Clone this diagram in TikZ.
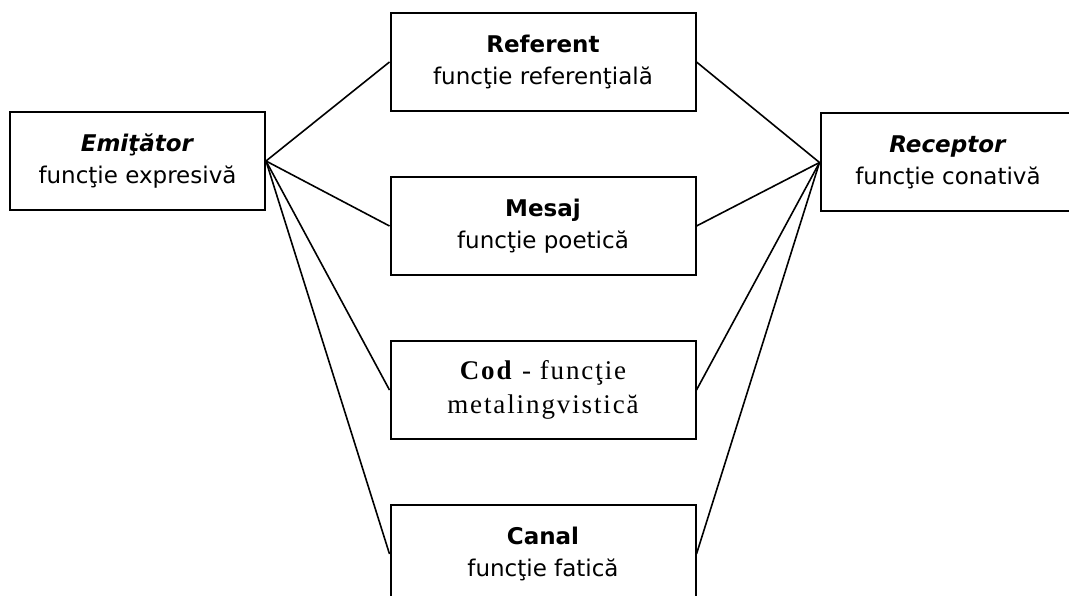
\documentclass[tikz,border=0pt]{standalone}
\usepackage{fontspec}
\setmainfont{DejaVu Sans}
\newfontfamily\codfont[LetterSpace=7]{Liberation Serif}
\usetikzlibrary{positioning}

\begin{document}
\begin{tikzpicture}[x=1pt, y=1pt,
        func/.style={draw, line width=2pt, align=center, minimum height=98pt, font=\fontsize{23}{32}\selectfont},
        side/.style={func, minimum width=255pt},
        mid/.style={func, minimum width=305pt},
        link/.style={line width=1.6pt}
      ]
      \clip (0,0) rectangle (1069,-596);

      \node (Em) [side] at (137.5,-161) {\textbf{\textit{Emiţător}}\\funcţie expresivă};
      \node (Rec) [side] at (948,-162.5) {\textbf{\textit{Receptor}}\\funcţie conativă};

      \node (Ref) [mid] at (543,-62) {\textbf{Referent}\\funcţie referenţială};
      \node (Mes) [mid, node distance=64pt, below=of Ref] {\textbf{Mesaj}\\funcţie poetică};
      \node (Cod) [mid, node distance=64pt, below=of Mes, font=\codfont\fontsize{27}{34}\selectfont] {\textbf{Cod} - funcţie\\metalingvistică};
      \node (Can) [mid, node distance=64pt, below=of Cod] {\textbf{Canal}\\funcţie fatică};

      \path[link] (Em.east) edge (Ref.west) edge (Mes.west) edge (Cod.west) edge (Can.west);
      \path[link] (Rec.west) edge (Ref.east) edge (Mes.east) edge (Cod.east) edge (Can.east);

    \end{tikzpicture}
\end{document}
